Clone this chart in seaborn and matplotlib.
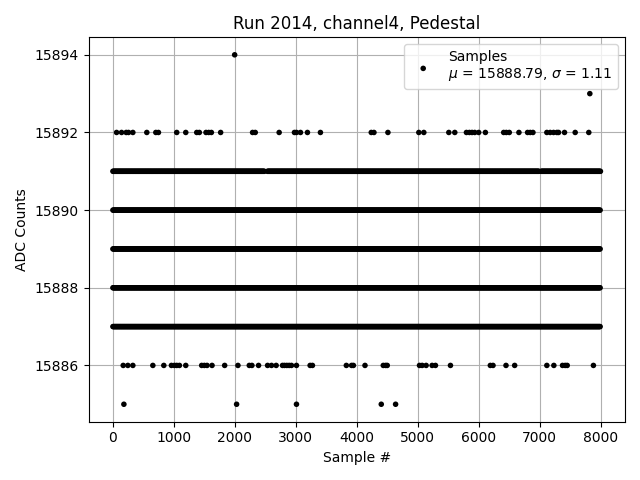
import numpy as np
import pandas as pd
import matplotlib
matplotlib.use("Agg")
import matplotlib.pyplot as plt
import seaborn as sns

# ---- data ----
# sparse ADC levels: sample indices where they occur
samples_15894 = [1997]
samples_15893 = [7823]
samples_15892 = [60, 142, 218, 256, 327, 556, 704, 747, 1047, 1195, 1375, 1418, 1527,
                 1571, 1615, 1767, 2291, 2335, 2727, 2978, 3011, 3077, 3191, 3404,
                 4238, 4282, 4511, 5018, 5100, 5510, 5608, 5799, 5848, 5891, 5935,
                 6000, 6110, 6410, 6453, 6502, 6660, 6802, 6846, 6890, 7118, 7173,
                 7228, 7282, 7310, 7408, 7583, 7806]
samples_15886 = [169, 245, 327, 655, 835, 960, 1009, 1047, 1091, 1195, 1456, 1500,
                 1544, 1626, 1833, 2051, 2237, 2280, 2389, 2537, 2602, 2678, 2782,
                 2815, 2853, 2891, 2929, 3011, 3235, 3273, 3829, 3915, 3945, 4135,
                 4435, 4473, 4500, 5029, 5073, 5138, 5236, 5291, 5537, 6191, 6235,
                 6448, 6590, 7118, 7233, 7375, 7419, 7452, 7882]
samples_15885 = [180, 2029, 3011, 4402, 4637]

# dense ADC levels: runs of consecutive samples (start, end) that appear filled
dense_runs = {
    15891: [(0, 2490), (2535, 6995), (7025, 7999)],
    15890: [(0, 7999)],
    15889: [(0, 7999)],
    15888: [(0, 7999)],
    15887: [(0, 7999)],
}
n_samples = 8000
legend_label = "Samples\n$\\mu$ = 15888.79, $\\sigma$ = 1.11"

# ---- build table ----
xs, ys = [], []
for level, lst in [(15894, samples_15894), (15893, samples_15893),
                   (15892, samples_15892), (15886, samples_15886),
                   (15885, samples_15885)]:
    xs += lst
    ys += [level] * len(lst)
for level, runs in dense_runs.items():
    for a, b in runs:
        seg = list(range(a, b + 1, 12))
        xs += seg
        ys += [level] * len(seg)
df = pd.DataFrame({"Sample": xs, "ADC": ys})

fig, ax = plt.subplots(figsize=(6.4, 4.8), dpi=100)
sns.scatterplot(data=df, x="Sample", y="ADC", ax=ax, color="black",
                marker="o", s=16, edgecolor="none", linewidth=0,
                label=legend_label, zorder=3)
ax.grid(True, color="#b0b0b0", linewidth=0.8)
ax.set_axisbelow(True)
ax.ticklabel_format(useOffset=False, style="plain", axis="y")
ax.set_yticks([15886, 15888, 15890, 15892, 15894])
ax.set_xticks([0, 1000, 2000, 3000, 4000, 5000, 6000, 7000, 8000])
ax.set_xlim(-400, 8400)
ax.set_ylim(15884.55, 15894.45)
ax.set_title("Run 2014, channel4, Pedestal")
ax.set_xlabel("Sample #")
ax.set_ylabel("ADC Counts")
ax.legend(loc="upper right")
fig.tight_layout()
fig.savefig("out.png", dpi=100)
